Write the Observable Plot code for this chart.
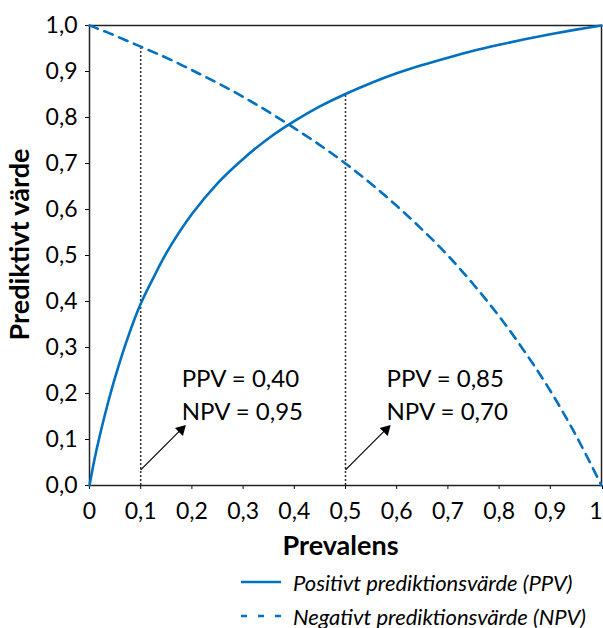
<!DOCTYPE html>
<html>
<head>
<meta charset="utf-8">
<script src="https://cdn.jsdelivr.net/npm/d3@7"></script>
<script src="https://cdn.jsdelivr.net/npm/@observablehq/plot@0.6"></script>
<style>
  html, body { margin: 0; padding: 0; background: #fff; }
  body { width: 603px; height: 628px; overflow: hidden; font-family: Lato, sans-serif; }
  #legend { position: relative; height: 68px; padding-top: 5px; box-sizing: border-box; }
  .row { display: flex; align-items: center; height: 34px; padding-left: 241px; }
  .row span { font-style: italic; font-size: 22px; margin-left: 12px; color: #000; white-space: nowrap; }
</style>
</head>
<body>
<div id="chart"></div>
<div id="legend"></div>
<script>
// Prevalence grid and the read-off predictive values
const prevalence = [0, 0.01, 0.02, 0.035, 0.05, 0.075, 0.1, 0.125, 0.15, 0.2, 0.25, 0.3, 0.35, 0.4, 0.45, 0.5, 0.55, 0.6, 0.65, 0.7, 0.75, 0.8, 0.85, 0.9, 0.95, 1];
const ppvValues = [0, 0.058, 0.108, 0.175, 0.235, 0.322, 0.395, 0.452, 0.505, 0.590, 0.657, 0.710, 0.755, 0.792, 0.824, 0.851, 0.875, 0.896, 0.914, 0.930, 0.945, 0.958, 0.970, 0.981, 0.991, 1];
const npvValues = [1, 0.996, 0.991, 0.985, 0.978, 0.966, 0.954, 0.942, 0.930, 0.903, 0.875, 0.845, 0.812, 0.777, 0.740, 0.700, 0.656, 0.608, 0.556, 0.500, 0.437, 0.368, 0.291, 0.206, 0.109, 0];

// Annotated prevalences
const markPrev = [0.1, 0.5];
const markPPV = [0.40, 0.85];
const markNPV = [0.95, 0.70];

const xTicks = [0, 0.1, 0.2, 0.3, 0.4, 0.5, 0.6, 0.7, 0.8, 0.9];
const xLastTick = [1];
const yTicks = [0, 0.1, 0.2, 0.3, 0.4, 0.5, 0.6, 0.7, 0.8, 0.9, 1];

const seriesNames = ["Positivt prediktionsvärde (PPV)", "Negativt prediktionsvärde (NPV)"];
const xTitle = "Prevalens";
const yTitle = "Prediktivt värde";

const blue = "#0070c0";
const fmt = v => v.toFixed(2).replace(".", ",");
const fmtX = v => (v === 0 || v === 1) ? String(v) : v.toFixed(1).replace(".", ",");
const fmtY = v => v.toFixed(1).replace(".", ",");

const ppvData = prevalence.map((p, i) => ({p, v: ppvValues[i]}));
const npvData = prevalence.map((p, i) => ({p, v: npvValues[i]}));
const marks = markPrev.map((p, i) => ({p, ppv: markPPV[i], npv: markNPV[i]}));

const chart = Plot.plot({
  width: 603,
  height: 560,
  marginLeft: 89,
  marginRight: 2,
  marginTop: 25,
  marginBottom: 75,
  style: {fontFamily: "Lato, sans-serif", fontSize: "23px", color: "#000", background: "#fff"},
  x: {domain: [0, 1]},
  y: {domain: [0, 1]},
  marks: [
    Plot.axisX({ticks: xTicks, tickFormat: fmtX, tickSize: 4, tickPadding: 13, label: null, fontSize: 23}),
    Plot.axisX({ticks: xLastTick, tickFormat: fmtX, tickSize: 4, tickPadding: 13, label: null, fontSize: 23, textAnchor: "end", dx: 1}),
    Plot.axisY({ticks: yTicks, tickFormat: fmtY, tickSize: 4, tickPadding: 8, label: null, fontSize: 23}),
    Plot.ruleX(marks, {x: "p", y1: 0, y2: d => Math.max(d.ppv, d.npv), stroke: "#333", strokeWidth: 1.5, strokeDasharray: "2,2"}),
    Plot.frame({stroke: "#222", strokeWidth: 1.5}),
    Plot.line(npvData, {x: "p", y: "v", stroke: blue, strokeWidth: 2.6, strokeDasharray: "9,7", curve: "catmull-rom"}),
    Plot.line(ppvData, {x: "p", y: "v", stroke: blue, strokeWidth: 2.6, curve: "catmull-rom"}),
    Plot.link(marks, {x1: "p", y1: () => 0.034, x2: d => d.p + 0.08, y2: () => 0.123, stroke: "#000", strokeWidth: 1.2}),
    Plot.dot(marks, {x: d => d.p + 0.085, y: () => 0.128, symbol: "triangle", r: 4.2, rotate: 45, fill: "#000", stroke: "none", dx: -3, dy: 3}),
    Plot.text(marks, {x: "p", y: () => 0, text: d => "PPV = " + fmt(d.ppv), textAnchor: "start", dx: 41, dy: -106, fontSize: 24, fill: "#000"}),
    Plot.text(marks, {x: "p", y: () => 0, text: d => "NPV = " + fmt(d.npv), textAnchor: "start", dx: 41, dy: -73, fontSize: 24, fill: "#000"}),
    Plot.text([xTitle], {frameAnchor: "bottom", textAnchor: "middle", dy: 69, dx: -5, fontSize: 27, fontWeight: "bold", fill: "#000"}),
    Plot.text([yTitle], {frameAnchor: "left", textAnchor: "middle", rotate: -90, dx: -69, dy: -11, fontSize: 27, fontWeight: "bold", fill: "#000"})
  ]
});
document.getElementById("chart").appendChild(chart);

// Legend
const legend = d3.select("#legend");
seriesNames.forEach((name, i) => {
  const row = legend.append("div").attr("class", "row");
  const svg = row.append("svg").attr("width", 40).attr("height", 6);
  svg.append("line").attr("x1", 0).attr("x2", 40).attr("y1", 3).attr("y2", 3)
    .attr("stroke", blue).attr("stroke-width", 2.6)
    .attr("stroke-dasharray", i === 0 ? null : "6,11");
  row.append("span").text(name);
});
</script>
</body>
</html>
